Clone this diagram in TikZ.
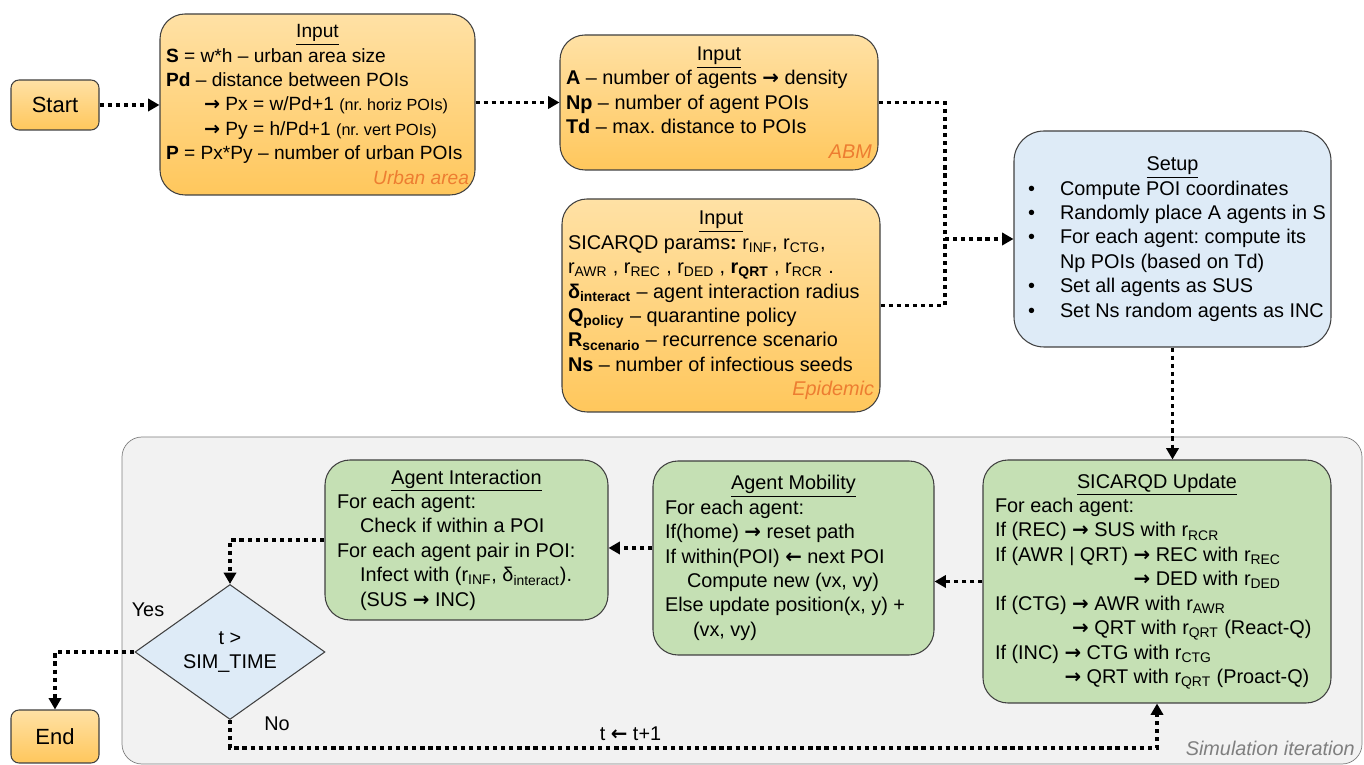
\documentclass[tikz,border=0pt]{standalone}
\usepackage{fontspec}
\setmainfont{Liberation Sans}
\newfontfamily\arrowfont{DejaVu Sans}
\usetikzlibrary{arrows.meta,shapes.geometric}

\definecolor{orgtop}{RGB}{255,225,165}
\definecolor{orgbot}{RGB}{255,199,92}
\definecolor{grnfill}{RGB}{197,224,180}
\definecolor{bluefill}{RGB}{222,235,247}
\definecolor{simfill}{RGB}{242,242,242}
\definecolor{simline}{RGB}{127,127,127}
\definecolor{tagorange}{RGB}{237,125,49}
\definecolor{edge}{RGB}{64,64,64}

\newcommand{\boxfont}{\fontsize{11.3}{13.9}\selectfont}
\newcommand{\urbanfont}{\fontsize{10.9}{13.9}\selectfont}
\newcommand{\notefont}{\fontsize{9.2}{10}\selectfont}
\newcommand{\boxtitle}[1]{\makebox[\linewidth]{\underline{#1}}}
\newcommand{\boxtag}[1]{\makebox[\linewidth][r]{\color{tagorange}\itshape #1}}
\newcommand{\rsub}[1]{r\textsubscript{#1}}
\newcommand{\ra}{{\arrowfont\bfseries →}}
\newcommand{\la}{{\arrowfont\bfseries ←}}
\newcommand{\bul}{\hspace*{0.26cm}\makebox[0.64cm][l]{\textbullet}}
\frenchspacing

\begin{document}
\begin{tikzpicture}[
  inbox/.style={draw=edge, line width=0.6pt, rounded corners=0.5cm,
    top color=orgtop, bottom color=orgbot, align=flush left,
    inner xsep=0.12cm, inner ysep=0pt, font=\boxfont},
  stepbox/.style={draw=edge, line width=0.6pt, rounded corners=0.5cm,
    fill=grnfill, align=flush left, inner xsep=0.24cm, inner ysep=0pt, font=\boxfont},
  setupbox/.style={stepbox, fill=bluefill, inner xsep=0.02cm, rounded corners=0.6cm},
  termbox/.style={draw=edge, line width=0.6pt, rounded corners=0.16cm,
    top color=orgtop, bottom color=orgbot, minimum width=1.76cm,
    font=\fontsize{12.5}{15}\selectfont},
  decision/.style={diamond, draw=edge, line width=0.6pt, fill=bluefill,
    minimum width=3.8cm, minimum height=2.62cm, inner sep=0pt,
    align=center, font=\boxfont},
  link/.style={line width=2.2pt, dash pattern=on 2.4pt off 2.2pt,
    -{Triangle[length=6.5pt,width=7pt]}},
  linkplain/.style={line width=2.2pt, dash pattern=on 2.4pt off 2.2pt},
  lbl/.style={font=\boxfont}
]
\useasboundingbox (0,0) rectangle (27.28,15.30);

% Simulation frame
\node[draw=simline, fill=simfill, rounded corners=0.4cm, minimum width=24.8cm,
  minimum height=6.54cm] (simbox) at (14.84,3.29) {};
\node[anchor=base east, font=\boxfont\itshape, text=simline, inner sep=0pt]
  (simtag) at (27.1,0.2) {Simulation iteration};

% Start / End
\node[termbox, minimum height=1cm] (start) at (1.10,13.20) {Start};
\node[termbox, minimum height=1.06cm] (end) at (1.10,0.57) {End};

% Inputs
\node[inbox, font=\urbanfont, text width=6.06cm, minimum height=3.62cm] (urban) at (6.35,13.21) {%
  \boxtitle{Input}\\
  \textbf{S} = w*h – urban area size\\
  \textbf{Pd} – distance between POIs\\
  \hspace*{0.76cm}\ra{} Px = w/Pd+1 {\notefont (nr. horiz POIs)}\\
  \hspace*{0.76cm}\ra{} Py = h/Pd+1 {\notefont (nr. vert POIs)}\\
  \textbf{P} = Px*Py – number of urban POIs\\
  \boxtag{Urban area}\par\vspace{-0.16cm}};
\node[inbox, text width=6.12cm, minimum height=2.70cm] (abm) at (14.38,13.25) {%
  \boxtitle{Input}\\
  \textbf{A} – number of agents \ra{} density\\
  \textbf{Np} – number of agent POIs\\
  \textbf{Td} – max. distance to POIs\\
  \boxtag{ABM}};
\node[inbox, text width=6.12cm, minimum height=4.26cm] (epid) at (14.42,9.19) {%
  \boxtitle{Input}\\
  SICARQD params\textbf{:} \rsub{INF}, \rsub{CTG},\\
  \rsub{AWR} , \rsub{REC} , \rsub{DED} , \textbf{\rsub{QRT}} , \rsub{RCR} .\\
  \textbf{δ\textsubscript{interact}} – agent interaction radius\\
  \textbf{Q\textsubscript{policy}} – quarantine policy\\
  \textbf{R\textsubscript{scenario}} – recurrence scenario\\
  \textbf{Ns} – number of infectious seeds\\
  \boxtag{Epidemic}};

% Setup
\node[setupbox, text width=6.30cm, minimum height=4.32cm] (setup) at (23.45,10.52) {%
  \boxtitle{Setup}\\
  \bul Compute POI coordinates\\
  \bul Randomly place A agents in S\\
  \bul For each agent: compute its\\
  \hspace*{0.90cm}Np POIs (based on Td)\\
  \bul Set all agents as SUS\\
  \bul Set Ns random agents as INC\par\vspace{0.4cm}};

% Iteration steps
\node[stepbox, text width=6.48cm, minimum height=4.86cm] (update) at (23.14,3.67) {%
  \boxtitle{SICARQD Update}\\
  For each agent:\\
  If (REC) \ra{} SUS with \rsub{RCR}\\
  If (AWR | QRT) \ra{} REC with \rsub{REC}\\
  \phantom{If (AWR | QRT) }\ra{} DED with \rsub{DED}\\
  If (CTG) \ra{} AWR with \rsub{AWR}\\
  \phantom{If (CTG) }\ra{} QRT with \rsub{QRT} (React-Q)\\
  If (INC) \ra{} CTG with \rsub{CTG}\\
  \phantom{If (INC) }\ra{} QRT with \rsub{QRT} (Proact-Q)};
\node[stepbox, text width=5.14cm, minimum height=3.88cm] (mobility) at (15.87,4.14) {%
  \boxtitle{Agent Mobility}\\
  For each agent:\\
  If(home) \ra{} reset path\\
  If within(POI) \la{} next POI\\
  \hspace*{0.44cm}Compute new (vx, vy)\\
  Else update position(x, y) +\\
  \hspace*{0.56cm}(vx, vy)};
\node[stepbox, text width=5.18cm, minimum height=3.20cm] (interact) at (9.33,4.50) {%
  \boxtitle{Agent Interaction}\\
  For each agent:\\
  \hspace*{0.46cm}Check if within a POI\\
  For each agent pair in POI:\\
  \hspace*{0.46cm}Infect with (\rsub{INF}, δ\textsubscript{interact}).\\
  \hspace*{0.46cm}(SUS \ra{} INC)};
\node[decision] (test) at (4.60,2.26) {t >\\SIM\_TIME};

% Labels
\node[lbl] (yes) at (2.96,3.10) {Yes};
\node[lbl] (no) at (5.54,0.82) {No};

% Connectors
\coordinate (join) at (18.90,10.52);
\coordinate (back) at (23.14,0.34);
\draw[link] (start.east) -- (start.east -| urban.west);
\draw[link] (urban.east |- abm.west) -- (abm.west);
\draw[linkplain] (abm.east) -| (join);
\draw[linkplain] (epid.east) -| (join);
\draw[link] (join) -- (setup.west);
\draw[link] (setup.south) -- (setup.south |- update.north);
\draw[link] (update.west) -- (update.west -| mobility.east);
\draw[link] ([yshift=0.2cm]mobility.west) -- ([yshift=0.2cm]mobility.west -| interact.east);
\draw[link] (interact.west) -| (test.north);
\draw[link] (test.west) -| (end.north);
\draw[link] (test.south) |- (back) node[lbl, pos=0.716, above] (incr) {t \la{} t+1}
  -- (update.south);
\end{tikzpicture}
\end{document}
